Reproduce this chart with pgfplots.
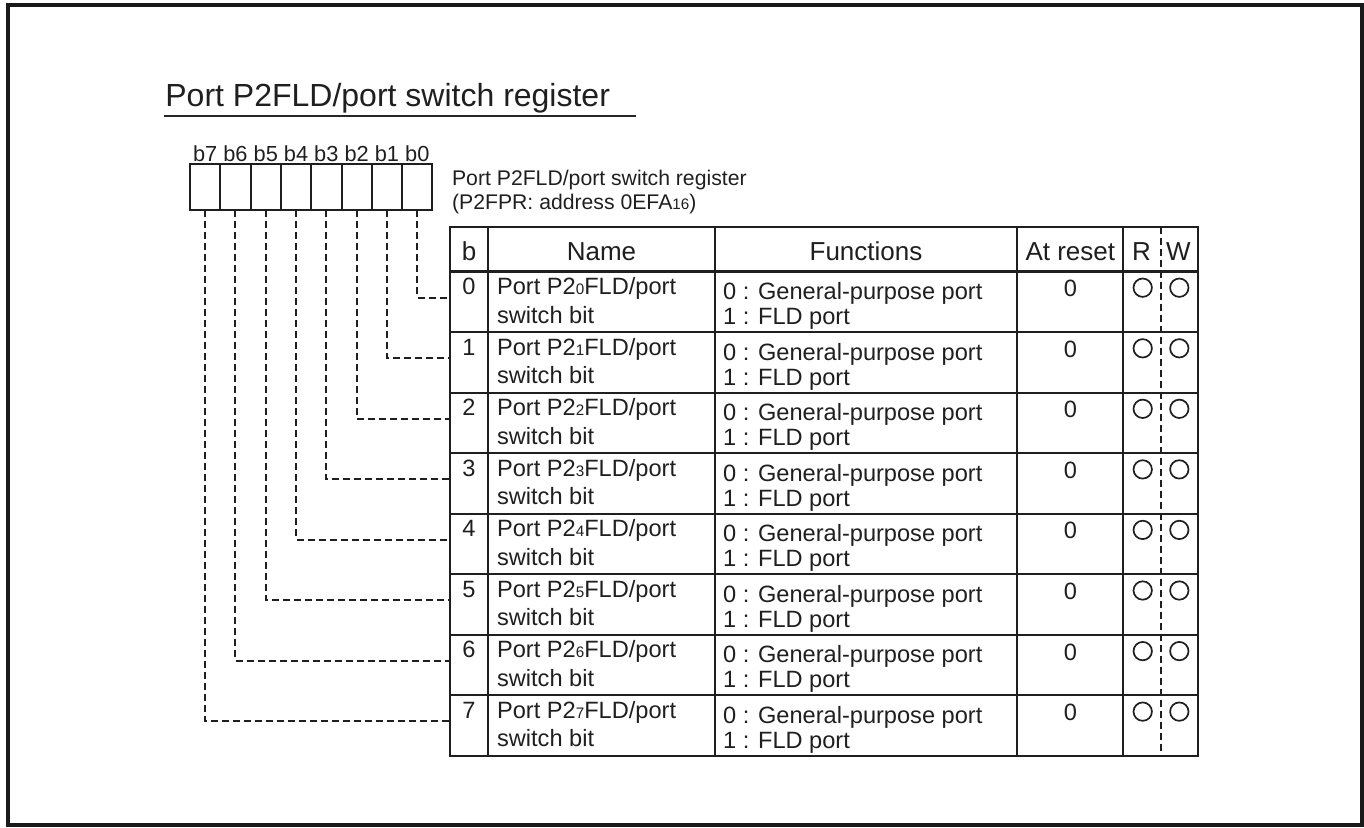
\documentclass[border=0pt]{standalone}
\usepackage{fontspec}
\setmainfont{Liberation Sans}
\usepackage{pgfplots}
\pgfplotsset{compat=1.18}
\newcommand{\sub}[1]{{\fontsize{7.6}{7.6}\selectfont #1}}
\begin{document}
\begin{tikzpicture}
\begin{axis}[scale only axis, width=682pt, height=413.5pt,
  xmin=0, xmax=1364, ymin=0, ymax=827, y dir=reverse,
  hide axis, clip=false]
\path (axis cs:0,0) rectangle (axis cs:1364,827);
% outer frame
\draw[line width=1.6pt, color=black!90] (axis cs:8,5) rectangle (axis cs:1362,825);
% title
\node[anchor=base west, inner sep=0, font=\fontsize{16}{16}\selectfont, text=black!88] at (axis cs:165,106) {Port P2FLD/port switch register};
\draw[line width=0.7pt, black!85] (axis cs:164,116) -- (axis cs:636,116);
% bit labels
\begin{scope}[every node/.style={anchor=base, inner sep=0, font=\fontsize{10.9}{10.9}\selectfont, text=black!88}]
\node at (axis cs:205.15,161) {b7};
\node at (axis cs:235.45,161) {b6};
\node at (axis cs:265.75,161) {b5};
\node at (axis cs:296.05,161) {b4};
\node at (axis cs:326.35,161) {b3};
\node at (axis cs:356.65,161) {b2};
\node at (axis cs:386.95,161) {b1};
\node at (axis cs:417.25,161) {b0};
\end{scope}
% register box
\draw[line width=1pt, black!88] (axis cs:190,164.3) rectangle (axis cs:432.4,210.3);
\draw[line width=1pt, black!88]
  (axis cs:220.3,164.3) -- (axis cs:220.3,210.3)
  (axis cs:250.6,164.3) -- (axis cs:250.6,210.3)
  (axis cs:280.9,164.3) -- (axis cs:280.9,210.3)
  (axis cs:311.2,164.3) -- (axis cs:311.2,210.3)
  (axis cs:341.5,164.3) -- (axis cs:341.5,210.3)
  (axis cs:371.8,164.3) -- (axis cs:371.8,210.3)
  (axis cs:402.1,164.3) -- (axis cs:402.1,210.3);
% register description
\begin{scope}[every node/.style={anchor=base west, inner sep=0, font=\fontsize{10.6}{10.6}\selectfont, text=black!88}]
\node at (axis cs:451.7,185) {Port P2FLD/port switch register};
\node at (axis cs:451.7,209.3) {(P2FPR: address 0EFA\sub{16})};
\end{scope}
% dashed connectors
\begin{scope}[line width=1pt, black!88, dash pattern=on 3.5pt off 2pt]
\draw (axis cs:417.25,210.3) |- (axis cs:450,297.5);
\draw (axis cs:386.95,210.3) |- (axis cs:450,358.1);
\draw (axis cs:356.65,210.3) |- (axis cs:450,418.6);
\draw (axis cs:326.35,210.3) |- (axis cs:450,479.2);
\draw (axis cs:296.05,210.3) |- (axis cs:450,539.7);
\draw (axis cs:265.75,210.3) |- (axis cs:450,600.3);
\draw (axis cs:235.45,210.3) |- (axis cs:450,660.9);
\draw (axis cs:205.15,210.3) |- (axis cs:450,721.4);
\draw (axis cs:1161,226.7) -- (axis cs:1161,756);
\end{scope}
% table grid
\draw[line width=1.05pt, black!88] (axis cs:450,226.7) rectangle (axis cs:1198.3,756);
\draw[line width=1.05pt, black!88]
  (axis cs:450,271.5) -- (axis cs:1198.3,271.5)
  (axis cs:450,332.1) -- (axis cs:1198.3,332.1)
  (axis cs:450,392.6) -- (axis cs:1198.3,392.6)
  (axis cs:450,453.2) -- (axis cs:1198.3,453.2)
  (axis cs:450,513.7) -- (axis cs:1198.3,513.7)
  (axis cs:450,574.3) -- (axis cs:1198.3,574.3)
  (axis cs:450,634.9) -- (axis cs:1198.3,634.9)
  (axis cs:450,695.4) -- (axis cs:1198.3,695.4)
  (axis cs:488,226.7) -- (axis cs:488,756)
  (axis cs:715,226.7) -- (axis cs:715,756)
  (axis cs:1017.3,226.7) -- (axis cs:1017.3,756)
  (axis cs:1123.3,226.7) -- (axis cs:1123.3,756);
% header
\begin{scope}[every node/.style={anchor=base, inner sep=0, font=\fontsize{13}{13}\selectfont, text=black!88}]
\node at (axis cs:469,260.5) {b};
\node at (axis cs:601.5,260.5) {Name};
\node at (axis cs:866,260.5) {Functions};
\node at (axis cs:1070.3,260.5) {At reset};
\node at (axis cs:1141.5,260.5) {R};
\node at (axis cs:1178.5,260.5) {W};
\end{scope}
% rows
\begin{scope}[every node/.style={inner sep=0, font=\fontsize{11.8}{11.8}\selectfont, text=black!88}]
% bit numbers
\node[anchor=base] at (axis cs:469,294.5) {0};
\node[anchor=base] at (axis cs:469,355.1) {1};
\node[anchor=base] at (axis cs:469,415.6) {2};
\node[anchor=base] at (axis cs:469,476.2) {3};
\node[anchor=base] at (axis cs:469,536.7) {4};
\node[anchor=base] at (axis cs:469,597.3) {5};
\node[anchor=base] at (axis cs:469,657.9) {6};
\node[anchor=base] at (axis cs:469,718.4) {7};
% names
\node[anchor=base west] at (axis cs:496.7,294.5) {Port P2\sub{0}FLD/port};
\node[anchor=base west] at (axis cs:496.7,323) {switch bit};
\node[anchor=base west] at (axis cs:496.7,355.1) {Port P2\sub{1}FLD/port};
\node[anchor=base west] at (axis cs:496.7,383.6) {switch bit};
\node[anchor=base west] at (axis cs:496.7,415.6) {Port P2\sub{2}FLD/port};
\node[anchor=base west] at (axis cs:496.7,444.1) {switch bit};
\node[anchor=base west] at (axis cs:496.7,476.2) {Port P2\sub{3}FLD/port};
\node[anchor=base west] at (axis cs:496.7,504.7) {switch bit};
\node[anchor=base west] at (axis cs:496.7,536.7) {Port P2\sub{4}FLD/port};
\node[anchor=base west] at (axis cs:496.7,565.2) {switch bit};
\node[anchor=base west] at (axis cs:496.7,597.3) {Port P2\sub{5}FLD/port};
\node[anchor=base west] at (axis cs:496.7,625.8) {switch bit};
\node[anchor=base west] at (axis cs:496.7,657.9) {Port P2\sub{6}FLD/port};
\node[anchor=base west] at (axis cs:496.7,686.4) {switch bit};
\node[anchor=base west] at (axis cs:496.7,718.4) {Port P2\sub{7}FLD/port};
\node[anchor=base west] at (axis cs:496.7,746.9) {switch bit};
% functions
\node[anchor=base west] at (axis cs:722.7,299.5) {0 : General-purpose port};
\node[anchor=base west] at (axis cs:722.7,324.5) {1 : FLD port};
\node[anchor=base west] at (axis cs:722.7,360.1) {0 : General-purpose port};
\node[anchor=base west] at (axis cs:722.7,385.1) {1 : FLD port};
\node[anchor=base west] at (axis cs:722.7,420.6) {0 : General-purpose port};
\node[anchor=base west] at (axis cs:722.7,445.6) {1 : FLD port};
\node[anchor=base west] at (axis cs:722.7,481.2) {0 : General-purpose port};
\node[anchor=base west] at (axis cs:722.7,506.2) {1 : FLD port};
\node[anchor=base west] at (axis cs:722.7,541.7) {0 : General-purpose port};
\node[anchor=base west] at (axis cs:722.7,566.7) {1 : FLD port};
\node[anchor=base west] at (axis cs:722.7,602.3) {0 : General-purpose port};
\node[anchor=base west] at (axis cs:722.7,627.3) {1 : FLD port};
\node[anchor=base west] at (axis cs:722.7,662.9) {0 : General-purpose port};
\node[anchor=base west] at (axis cs:722.7,687.9) {1 : FLD port};
\node[anchor=base west] at (axis cs:722.7,723.4) {0 : General-purpose port};
\node[anchor=base west] at (axis cs:722.7,748.4) {1 : FLD port};
% at reset
\node[anchor=base] at (axis cs:1070.3,296.7) {0};
\node[anchor=base] at (axis cs:1070.3,357.3) {0};
\node[anchor=base] at (axis cs:1070.3,417.8) {0};
\node[anchor=base] at (axis cs:1070.3,478.4) {0};
\node[anchor=base] at (axis cs:1070.3,538.9) {0};
\node[anchor=base] at (axis cs:1070.3,599.5) {0};
\node[anchor=base] at (axis cs:1070.3,660.1) {0};
\node[anchor=base] at (axis cs:1070.3,720.6) {0};
\end{scope}
% R/W circles
\addplot[only marks, mark=o, mark size=4.6pt, mark options={line width=0.85pt, draw=black!88}] coordinates {
(1142.7,287.7) (1179.3,287.7)
(1142.7,348.3) (1179.3,348.3)
(1142.7,408.8) (1179.3,408.8)
(1142.7,469.4) (1179.3,469.4)
(1142.7,529.9) (1179.3,529.9)
(1142.7,590.5) (1179.3,590.5)
(1142.7,651.1) (1179.3,651.1)
(1142.7,711.6) (1179.3,711.6)
};
\end{axis}
\end{tikzpicture}
\end{document}
